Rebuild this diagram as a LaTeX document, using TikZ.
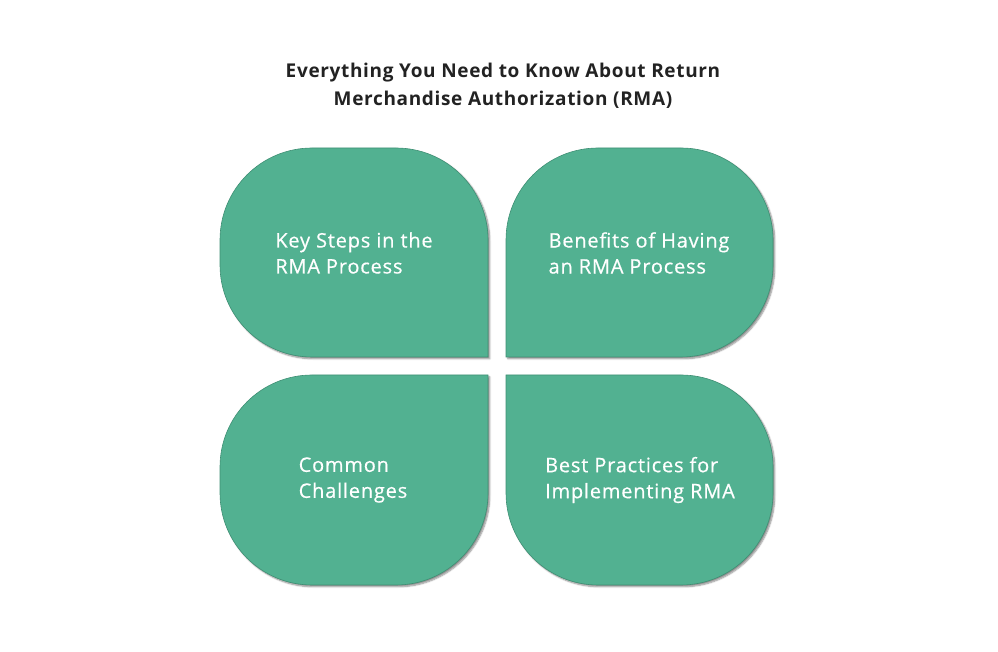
\documentclass[tikz,border=0pt]{standalone}
\usepackage{fontspec}
\setmainfont{Open Sans}
\usetikzlibrary{shadows.blur}
\definecolor{petalfill}{HTML}{52B191}
\definecolor{petalline}{HTML}{3F8F74}
\definecolor{titlecol}{HTML}{222222}
\tikzset{
  petal/.style={fill=petalfill, draw=petalline, line width=0.6pt,
    blur shadow={shadow xshift=1.8pt, shadow yshift=-1.8pt, shadow blur steps=6, shadow opacity=45, shadow blur radius=1.5pt}},
  petaltext/.style={text=white, font=\fontsize{20}{26}\selectfont\addfontfeatures{LetterSpace=4,FakeBold=0.5}, align=left, inner sep=0pt},
  titletext/.style={text=titlecol, font=\fontsize{19}{28}\selectfont\bfseries\addfontfeatures{LetterSpace=3.5}, align=center, inner sep=0pt}
}
\begin{document}
\begin{tikzpicture}[x=1pt,y=1pt]
\useasboundingbox (0,0) rectangle (998,652);
\def\R{92}
% top-left petal: sharp corner bottom-right
\path[petal] (488,295) -- (220+\R,295) arc[start angle=270,end angle=180,radius=\R]
  -- (220,504-\R) arc[start angle=180,end angle=90,radius=\R]
  -- (488-\R,504) arc[start angle=90,end angle=0,radius=\R] -- cycle;
% top-right petal: sharp corner bottom-left
\path[petal] (506,295) -- (506,504-\R) arc[start angle=180,end angle=90,radius=\R]
  -- (773-\R,504) arc[start angle=90,end angle=0,radius=\R]
  -- (773,295+\R) arc[start angle=0,end angle=-90,radius=\R] -- cycle;
% bottom-left petal: sharp corner top-right
\path[petal] (488,277) -- (488,67+\R) arc[start angle=0,end angle=-90,radius=\R]
  -- (220+\R,67) arc[start angle=270,end angle=180,radius=\R]
  -- (220,277-\R) arc[start angle=180,end angle=90,radius=\R] -- cycle;
% bottom-right petal: sharp corner top-left
\path[petal] (506,277) -- (773-\R,277) arc[start angle=90,end angle=0,radius=\R]
  -- (773,67+\R) arc[start angle=0,end angle=-90,radius=\R]
  -- (506+\R,67) arc[start angle=270,end angle=180,radius=\R] -- cycle;

\node[titletext] (title) at (503,566) {Everything You Need to Know About Return\\Merchandise Authorization (RMA)};
\node[petaltext] (p1) at (354,399) {Key Steps in the\\RMA Process};
\node[petaltext] (p2) at (639,399) {Benefits of Having\\an RMA Process};
\node[petaltext] (p3) at (353,172) {Common\\Challenges};
\node[petaltext] (p4) at (640,172) {Best Practices for\\Implementing RMA};
\end{tikzpicture}
\end{document}
